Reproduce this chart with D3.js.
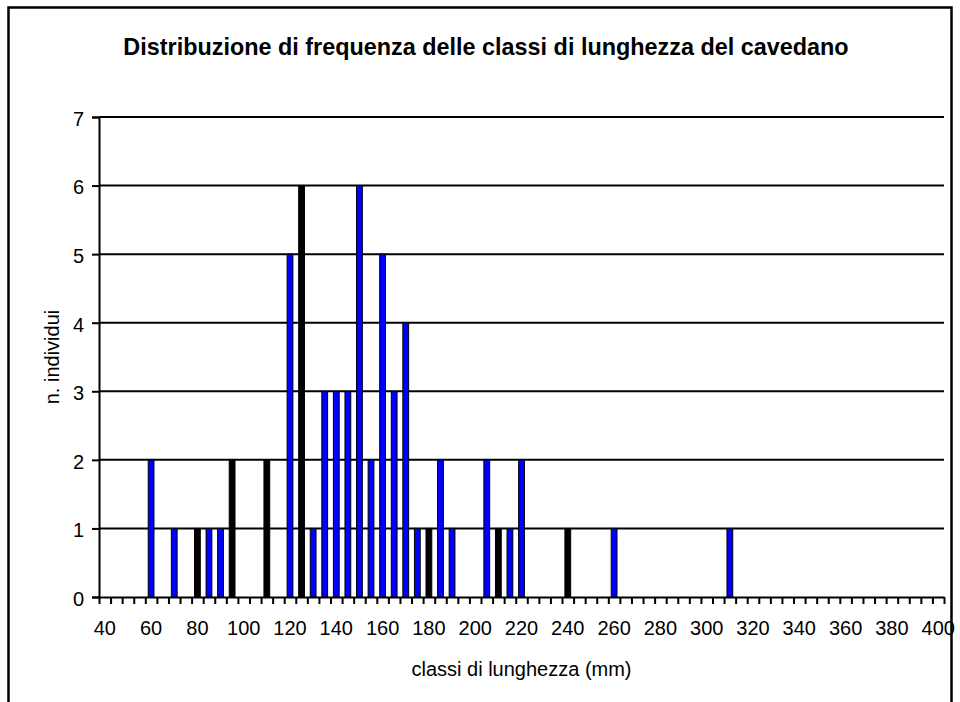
<!DOCTYPE html>
<html>
<head>
<meta charset="utf-8">
<script src="https://cdn.jsdelivr.net/npm/d3@7"></script>
<style>
  html, body { margin: 0; padding: 0; background: #fff; }
  svg { display: block; }
  text { font-family: Arial, "Liberation Sans", sans-serif; fill: #000; }
</style>
</head>
<body>
<script>
// Length classes (mm) on the category axis, 5 mm wide each
const classStart = 40;
const classEnd = 400;
const classStep = 5;
const lengthClasses = d3.range(classStart, classEnd + classStep, classStep);

// Observed classes and number of fish in each
const observedLengths = [60, 70, 80, 85, 90, 95, 110, 120, 125, 130, 135, 140, 145, 150, 155,
                         160, 165, 170, 175, 180, 185, 190, 205, 210, 215, 220, 240, 260, 310];
const observedCounts  = [2, 1, 1, 1, 1, 2, 2, 5, 6, 1, 3, 3, 3, 6, 2,
                         5, 3, 4, 1, 1, 2, 1, 2, 1, 1, 2, 1, 1, 1];

// Axis labels
const xTickLabels = d3.range(40, 420, 20);
const yTickLabels = [0, 1, 2, 3, 4, 5, 6, 7];

// Classes whose narrow bars render solid dark
const darkClasses = [80, 95, 110, 125, 180, 210, 240];

const chartTitle = "Distribuzione di frequenza delle classi di lunghezza del cavedano";
const xTitle = "classi di lunghezza (mm)";
const yTitle = "n. individui";

const W = 960, H = 702;
const plot = { left: 99, right: 944, top: 117, bottom: 597 };

const svg = d3.select("body").append("svg").attr("width", W).attr("height", H);

// Outer chart frame
svg.append("rect")
  .attr("x", 8.5).attr("y", 7.5).attr("width", 943).attr("height", 740)
  .attr("fill", "none").attr("stroke", "#000").attr("stroke-width", 2.5);

const x = d3.scaleBand()
  .domain(lengthClasses)
  .range([plot.left, plot.right])
  .paddingInner(0.5)
  .paddingOuter(0.25);

const xEdge = d3.scaleLinear()
  .domain([0, lengthClasses.length])
  .range([plot.left, plot.right]);

const y = d3.scaleLinear().domain([0, 7]).range([plot.bottom, plot.top]);

// Horizontal gridlines
svg.append("g")
  .selectAll("line")
  .data(yTickLabels.filter(v => v > 0))
  .join("line")
  .attr("x1", plot.left).attr("x2", plot.right)
  .attr("y1", d => y(d)).attr("y2", d => y(d))
  .attr("stroke", "#000").attr("stroke-width", 2);

// Bars
const data = observedLengths.map((len, i) => ({ len, n: observedCounts[i] }));
svg.append("g")
  .selectAll("rect")
  .data(data)
  .join("rect")
  .attr("x", d => x(d.len))
  .attr("width", x.bandwidth())
  .attr("y", d => y(d.n))
  .attr("height", d => y(0) - y(d.n))
  .attr("fill", d => darkClasses.includes(d.len) ? "#000" : "#0000ff")
  .attr("stroke", "#000")
  .attr("stroke-width", 1);

// Y axis
const yAxis = svg.append("g")
  .attr("transform", `translate(${plot.left},0)`)
  .call(d3.axisLeft(y).tickValues(yTickLabels).tickSize(7).tickPadding(8).tickFormat(d3.format("d")));
yAxis.select(".domain").attr("stroke-width", 2);
yAxis.selectAll(".tick line").attr("stroke-width", 2);
yAxis.selectAll(".tick text")
  .attr("font-size", 20)
  .attr("font-family", "Arial, 'Liberation Sans', sans-serif")
  .attr("dy", "0.42em");

// X axis: minor ticks on class boundaries
const xMinor = svg.append("g")
  .attr("transform", `translate(0,${plot.bottom})`)
  .call(d3.axisBottom(xEdge)
    .tickValues(d3.range(0, lengthClasses.length + 1))
    .tickSize(7)
    .tickSizeOuter(0)
    .tickFormat(""));
xMinor.select(".domain").attr("stroke-width", 2);
xMinor.selectAll(".tick line").attr("stroke-width", 2);

// X axis labels every 20 mm
const xLab = svg.append("g")
  .attr("transform", `translate(0,${plot.bottom})`)
  .call(d3.axisBottom(x).tickValues(xTickLabels).tickSize(0).tickPadding(24));
xLab.select(".domain").remove();
xLab.selectAll(".tick text")
  .attr("font-size", 20)
  .attr("font-family", "Arial, 'Liberation Sans', sans-serif")
  .attr("dy", "0.71em");

// Titles
svg.append("text")
  .attr("x", 486).attr("y", 55)
  .attr("text-anchor", "middle")
  .attr("font-size", 23.4)
  .attr("font-weight", "bold")
  .text(chartTitle);

svg.append("text")
  .attr("x", (plot.left + plot.right) / 2).attr("y", 676)
  .attr("text-anchor", "middle")
  .attr("font-size", 20)
  .text(xTitle);

svg.append("text")
  .attr("transform", `translate(59,${(plot.top + plot.bottom) / 2}) rotate(-90)`)
  .attr("text-anchor", "middle")
  .attr("font-size", 20)
  .text(yTitle);
</script>
</body>
</html>
